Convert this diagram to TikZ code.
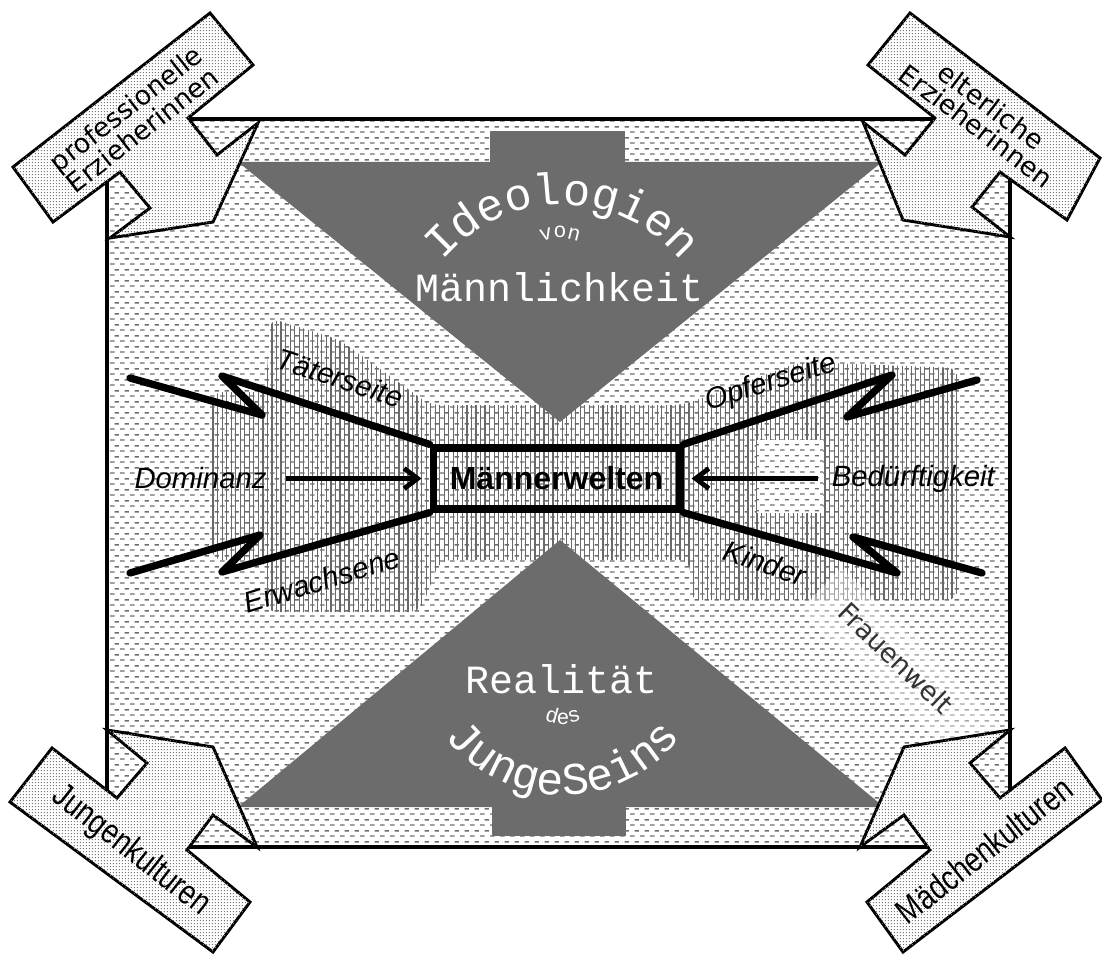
\documentclass[tikz,border=0pt]{standalone}
\usepackage{fontspec}
\usepackage{tikz}
\usetikzlibrary{arrows.meta, positioning, calc, patterns.meta, decorations.text}
\newfontfamily\monofnt{Liberation Mono}
\newfontfamily\sansfnt{Liberation Sans}
\newfontfamily\schmalfnt[FakeStretch=0.8]{Liberation Sans}
\newfontfamily\dejafnt{DejaVu Sans}
\definecolor{dreieckgrau}{RGB}{108,108,108}
\definecolor{strichgrau}{RGB}{110,110,110}
\definecolor{punktgrau}{RGB}{120,120,120}
\definecolor{liniengrau}{RGB}{105,105,105}

\pgfdeclarepattern{
  name=strichel,
  type=uncolored,
  bottom left={\pgfpoint{0pt}{0pt}},
  top right={\pgfpoint{7.5pt}{8pt}},
  tile size={\pgfpoint{7.5pt}{8pt}},
  code={
    \pgfpathrectangle{\pgfpoint{0.2pt}{1pt}}{\pgfpoint{3.6pt}{1.1pt}}
    \pgfpathrectangle{\pgfpoint{3.9pt}{5pt}}{\pgfpoint{3.4pt}{1.1pt}}
    \pgfusepath{fill}
  }
}
\pgfdeclarepattern{
  name=punkte,
  type=uncolored,
  bottom left={\pgfpoint{0pt}{0pt}},
  top right={\pgfpoint{2.5pt}{2.5pt}},
  tile size={\pgfpoint{2.5pt}{2.5pt}},
  code={
    \pgfpathrectangle{\pgfpoint{0.7pt}{0.7pt}}{\pgfpoint{1pt}{1pt}}
    \pgfusepath{fill}
  }
}

\begin{document}
\begin{tikzpicture}[
    x=0.75pt, y=-0.75pt,
    grund/.style={fill=white, postaction={pattern=strichel, pattern color=strichgrau}},
    schraffur/.style={pattern={Lines[angle=90, distance=3.4pt, line width=0.9pt]}, pattern color=liniengrau},
    dreieck/.style={fill=dreieckgrau},
    eckpfeil/.style={draw, line width=2.2pt, fill=white, postaction={pattern=punkte, pattern color=punktgrau}},
    zacke/.style={line width=5.5pt, line cap=round, line join=round},
    pfeil/.style={line width=3.6pt, -{Straight Barb[length=10pt, width=15pt]}},
    seite/.style={font=\sansfnt\itshape\fontsize{22}{22}\selectfont, inner sep=0pt},
    ecktext/.style={font=\dejafnt\fontsize{20}{18.5}\selectfont, align=center, inner sep=0pt},
    kultur/.style={font=\schmalfnt\fontsize{26}{26}\selectfont, inner sep=0pt},
    weiss/.style={text=white, font=\monofnt\fontsize{30}{30}\selectfont, inner sep=0pt},
    bogen/.style 2 args={decorate, decoration={text along path, text align=center, text color=white,
        text={|\monofnt\fontsize{#1}{#1}\selectfont|#2}}}
]
    \useasboundingbox (0,0) rectangle (1102,955);

    % Rahmen und Hintergruende
    \path[grund] (107,119) rectangle (1010,847);
    \path[schraffur, rounded corners=8pt] (212,392) -- (266,392) -- (270,318) -- (340,340) -- (430,405)
        -- (683,405) -- (800,362) -- (958,368) -- (958,600) -- (690,600) -- (690,560)
        -- (440,560) -- (420,612) -- (266,612) -- (266,560) -- (212,560) -- cycle;
    \path[grund] (757,440) rectangle (823,513);
    \begin{scope}
        \clip (107,119) rectangle (1010,847);
        \fill[white, opacity=.4, rotate around={-44:(900,665)}] (790,636) rectangle (1010,694);
    \end{scope}

    \fill[dreieck] (490,131) rectangle (625,163);
    \fill[dreieck] (238,162) -- (882,162) -- (560,422) -- cycle;
    \fill[dreieck] (492,805) rectangle (626,836);
    \fill[dreieck] (238,807) -- (884,807) -- (560,540) -- cycle;

    \draw[line width=3pt] (107,119) rectangle (1010,847);

    % Eckpfeile
    \draw[eckpfeil] (13,167) -- (210,13) -- (253,65) -- (188,118) -- (217,155) -- (258,123)
        -- (213,222) -- (110,238) -- (150,208) -- (120,172) -- (53,222) -- cycle;
    \draw[eckpfeil] (910,13) -- (1100,158) -- (1067,220) -- (1000,172) -- (972,207) -- (1010,237)
        -- (903,220) -- (863,122) -- (905,155) -- (935,118) -- (868,65) -- cycle;
    \draw[eckpfeil] (52,748) -- (117,798) -- (147,763) -- (107,730) -- (213,747) -- (257,847)
        -- (213,815) -- (187,850) -- (250,902) -- (213,952) -- (10,802) -- cycle;
    \draw[eckpfeil] (1065,748) -- (1000,798) -- (970,763) -- (1010,730) -- (904,747) -- (860,847)
        -- (904,815) -- (930,850) -- (867,902) -- (903,952) -- (1102,800) -- cycle;

    \node[ecktext, rotate=38] (profi) at (134,119) {professionelle\\Erzieherinnen};
    \node[ecktext, rotate=-37] (eltern) at (984,116) {elterliche\\Erzieherinnen};
    \node[kultur, rotate=-38] (jungen) at (131,851) {Jungenkulturen};
    \node[kultur, rotate=38] (maedchen) at (984,850) {Mädchenkulturen};

    % Dreieckstexte
    \path[bogen={34}{Ideologien}] (562,360) ++(-145:155) arc[start angle=-145, end angle=-35, radius=155];
    \path[bogen={16}{von}] (560,290) ++(-135:52) arc[start angle=-135, end angle=-45, radius=52];
    \node[weiss, anchor=base] (maennlich) at (560,302) {Männlichkeit};
    \node[weiss, anchor=base] (realitaet) at (562,693) {Realität};
    \path[bogen={16}{des}] (563,678) ++(135:46) arc[start angle=135, end angle=45, radius=46];
    \path[bogen={34}{JungeSeins}] (563,645) ++(145:150) arc[start angle=145, end angle=35, radius=150];

    % Maennerwelten
    \node[draw, line width=5.5pt, minimum width=185pt, minimum height=45.75pt, inner sep=0pt,
          font=\sansfnt\bfseries\fontsize{24}{24}\selectfont] (maenner) at (556.5,478.5) {Männerwelten};

    \coordinate (ol1) at (222,376);  \coordinate (ol2) at (262,415);  \coordinate (ol3) at (130,378);
    \coordinate (ul1) at (222,572);  \coordinate (ul2) at (260,535);  \coordinate (ul3) at (130,573);
    \coordinate (or1) at (892,375);  \coordinate (or2) at (847,417);  \coordinate (or3) at (977,380);
    \coordinate (ur1) at (897,573);  \coordinate (ur2) at (853,537);  \coordinate (ur3) at (982,573);

    \draw[zacke] (maenner.north west) -- (ol1) -- (ol2) -- (ol3);
    \draw[zacke] (maenner.south west) -- (ul1) -- (ul2) -- (ul3);
    \draw[zacke] (maenner.north east) -- (or1) -- (or2) -- (or3);
    \draw[zacke] (maenner.south east) -- (ur1) -- (ur2) -- (ur3);

    \node[seite, left=122pt of maenner] (dominanz) {Dominanz};
    \node[seite, right=111pt of maenner] (beduerftig) {Bedürftigkeit};
    \draw[pfeil, shorten <=14pt, shorten >=6pt] (dominanz) -- (maenner);
    \draw[pfeil, shorten <=10pt, shorten >=6pt] (beduerftig) -- (maenner);

    \node[seite, rotate=-18] (taeter) at (340,378) {Täterseite};
    \node[seite, rotate=17] (erwachsene) at (322,580) {Erwachsene};
    \node[seite, rotate=17] (opfer) at (771,383) {Opferseite};
    \node[seite, rotate=-18] (kinder) at (765,563) {Kinder};
    \node[rotate=-44, inner sep=0pt, text=black!80, font=\dejafnt\fontsize{20}{20}\selectfont] (frauen) at (896,658) {Frauenwelt};
\end{tikzpicture}
\end{document}
